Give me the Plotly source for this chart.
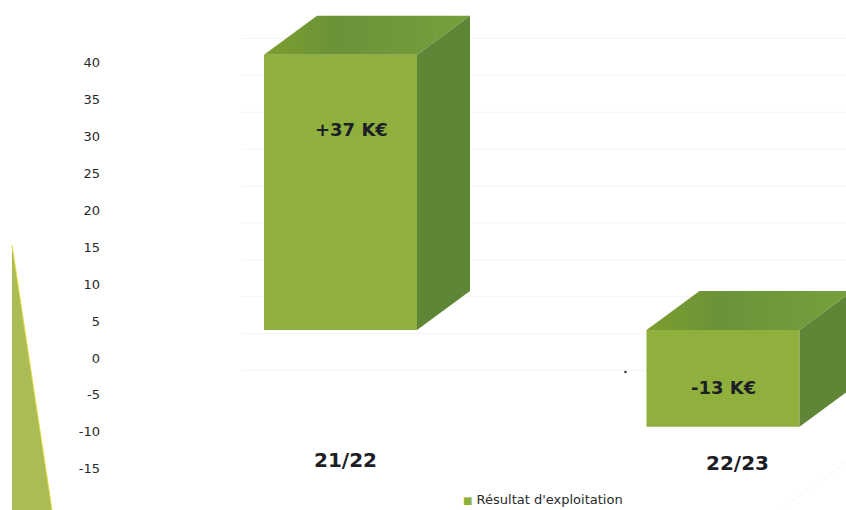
import plotly.graph_objects as go

categories = ["21/22", "22/23"]
values = [37.3, -13.1]
value_labels = ["+37 K€", "-13 K€"]
y_ticks = [40, 35, 30, 25, 20, 15, 10, 5, 0, -5, -10, -15]
series_name = "Résultat d'exploitation"

FONT = "DejaVu Sans"
FRONT, TOP, SIDE = "#8FB03D", "#6C9238", "#5F8537"
TEXT = "#1c2026"

W, H = 846, 510
bar_w = 0.40
base = 3.8          # floor of the 3D box on the axis scale
depth_x = 53 / 382.5
depth_y = 39 / 7.38
grid_shift = 3.3

xs = list(range(len(categories)))
fig = go.Figure()

# top and side faces derived from the data
for x, v in zip(xs, values):
    l, r = x - bar_w / 2, x + bar_w / 2
    top = base + max(v, 0)
    bot = base + min(v, 0)
    fig.add_trace(go.Scatter(
        x=[l, r, r + depth_x, l + depth_x, l],
        y=[top, top, top + depth_y, top + depth_y, top],
        mode="lines", fill="toself", line=dict(width=0), showlegend=False, hoverinfo="skip",
        fillgradient=dict(type="horizontal", colorscale=[[0, "#7C9E2F"], [0.35, TOP], [1, "#76A03C"]])))
    fig.add_trace(go.Scatter(
        x=[r, r + depth_x, r + depth_x, r, r],
        y=[top, top + depth_y, bot + depth_y, bot, top],
        mode="lines", fill="toself", line=dict(width=0), fillcolor=SIDE,
        showlegend=False, hoverinfo="skip"))

# front faces
fig.add_trace(go.Bar(x=xs, y=values, base=[base] * len(values), width=bar_w, name=series_name,
                     marker=dict(color=FRONT, line=dict(width=0)), showlegend=False))

# stray speck of the scan
fig.add_trace(go.Scatter(x=[0.745], y=[-1.9], mode="markers", marker=dict(size=2.5, color="#333a44"),
                         showlegend=False, hoverinfo="skip"))

lab_pos = [(0.028, 30.9), (1.002, -4.0)]
cat_pos = [(0.012, -13.8), (1.037, -14.2)]
ann = []
for s, (x, y) in zip(value_labels, lab_pos):
    ann.append(dict(x=x, y=y, text=f"<b>{s}</b>", showarrow=False, font=dict(family=FONT, size=18, color=TEXT)))
for s, (x, y) in zip(categories, cat_pos):
    ann.append(dict(x=x, y=y, text=f"<b>{s}</b>", showarrow=False, font=dict(family=FONT, size=20, color=TEXT)))
ann.append(dict(xref="paper", yref="paper", x=461 / W, y=1 - 499 / H, xanchor="left", yanchor="middle",
                showarrow=False,
                text=f'<span style="color:{FRONT};font-size:10px">■</span> {series_name}',
                font=dict(family=FONT, size=13, color="#2a2a2a")))

# faint back-wall gridlines, kept behind the bars
shapes = [dict(type="line", xref="x", yref="y", layer="below", x0=-0.26, x1=1.33,
               y0=t + grid_shift, y1=t + grid_shift, line=dict(color="#f5f5f5", width=1))
          for t in y_ticks if t + grid_shift > -4]
shapes += [
    dict(type="path", xref="paper", yref="paper", layer="below",
         path=f"M {12/W} {1-245/H} L {52/W} 0 L {12/W} 0 Z",
         fillcolor="#A9BC55", line=dict(width=0)),
    dict(type="line", xref="paper", yref="paper", layer="below",
         x0=12 / W, y0=1 - 245 / H, x1=52 / W, y1=0, line=dict(color="#E4DC3C", width=1)),
    dict(type="line", xref="paper", yref="paper", layer="below",
         x0=780 / W, y0=0, x1=1, y1=1 - 462 / H, line=dict(color="#f6f6f6", width=1)),
]

fig.update_layout(
    width=W, height=H, margin=dict(l=0, r=0, t=0, b=0), autosize=False,
    paper_bgcolor="white", plot_bgcolor="rgba(0,0,0,0)", showlegend=False,
    annotations=ann, barmode="overlay", shapes=shapes,
    xaxis=dict(range=[-340.5 / 382.5, (846 - 340.5) / 382.5], showgrid=False, zeroline=False,
               showticklabels=False, ticks="", showline=False, fixedrange=True),
    yaxis=dict(range=[(358 - 510) / 7.38, 358 / 7.38], tickvals=y_ticks, ticktext=[str(t) for t in y_ticks],
               showgrid=False, zeroline=False, showline=False, ticks="", anchor="free", position=100 / W,
               side="left", automargin=False, tickfont=dict(family=FONT, size=13, color="#2a2a2a"), fixedrange=True),
)
fig.write_html("out.html", config={"displayModeBar": False},
               post_script="document.body.style.margin='0';document.documentElement.style.overflow='hidden';")
